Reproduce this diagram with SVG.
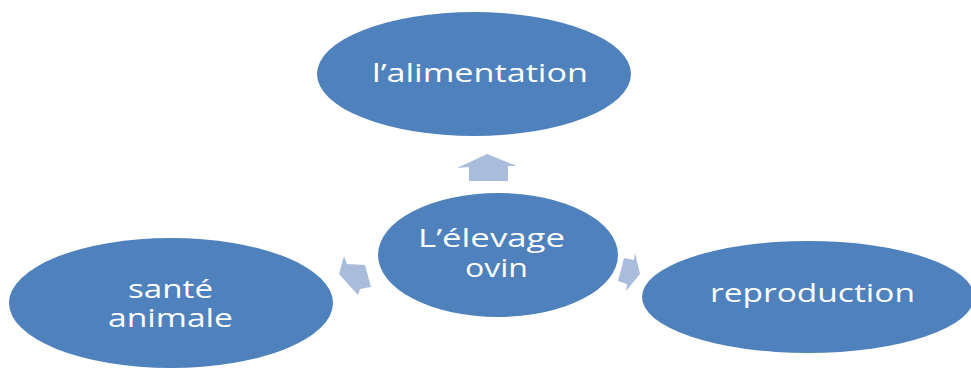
<svg xmlns="http://www.w3.org/2000/svg" width="971" height="369" viewBox="0 0 971 369">
<style>
.node{fill:#4F81BD;}
.lbl{fill:#FFFFFF;font-family:"Open Sans","Noto Sans",sans-serif;font-size:26px;text-anchor:start;}
.arr{fill:#A9BCDC;}
</style>
<rect width="971" height="369" fill="#FFFFFF"/>
<g id="connectors">
<polygon class="arr" points="469,181 469,167 457,168 487,154 517,166 508,166 508,181"/>
<polygon class="arr" points="365,265 347,264 344,256 339,274 358,295 360,289 371,287"/>
<polygon class="arr" points="618,281 627,284 626,291 640,274 635,253 634,260 624,258"/>
</g>
<g id="node-alimentation">
<ellipse class="node" cx="474" cy="74" rx="157" ry="62"/>
<text class="lbl" x="372" y="82" textLength="216" lengthAdjust="spacingAndGlyphs">l’alimentation</text>
</g>
<g id="node-elevage">
<ellipse class="node" cx="498" cy="255" rx="120" ry="62"/>
<text class="lbl" x="418" y="247" textLength="147" lengthAdjust="spacingAndGlyphs">L’élevage</text>
<text class="lbl" x="465" y="277" textLength="63" lengthAdjust="spacingAndGlyphs">ovin</text>
</g>
<g id="node-sante">
<ellipse class="node" cx="171" cy="303" rx="162" ry="65"/>
<text class="lbl" x="128" y="298" textLength="85" lengthAdjust="spacingAndGlyphs">santé</text>
<text class="lbl" x="108" y="327" textLength="125" lengthAdjust="spacingAndGlyphs">animale</text>
</g>
<g id="node-reproduction">
<ellipse class="node" cx="808" cy="297" rx="166" ry="56"/>
<text class="lbl" x="710" y="302" textLength="205" lengthAdjust="spacingAndGlyphs">reproduction</text>
</g>
</svg>
